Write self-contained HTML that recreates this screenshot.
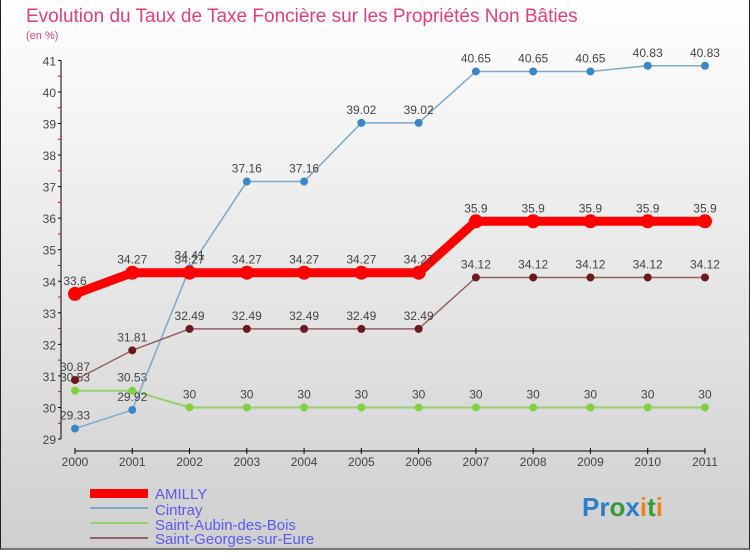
<!DOCTYPE html>
<html><head><meta charset="utf-8"><style>
body{margin:0;width:750px;height:550px;overflow:hidden;font-family:"Liberation Sans",sans-serif}
</style></head><body>
<svg width="750" height="550" xmlns="http://www.w3.org/2000/svg">
<defs><linearGradient id="bg" x1="0" y1="0" x2="0" y2="1"><stop offset="0" stop-color="#ffffff"/><stop offset="1" stop-color="#cfcfcf"/></linearGradient></defs>
<rect x="0" y="0" width="750" height="550" fill="url(#bg)"/>
<rect x="0.5" y="-2" width="749" height="551" fill="none" stroke="#222"/>
<text x="26" y="22" font-size="19" fill="#e0407a">Evolution du Taux de Taxe Foncière sur les Propriétés Non Bâties</text>
<text x="26" y="39" font-size="11" fill="#e0407a">(en %)</text>
<g id="axes"></g><g id="series"></g>
<g>
<rect x="90" y="489" width="58" height="9" fill="#f00"/>
<rect x="90" y="507" width="58" height="2" fill="#7aa9cc"/>
<rect x="90" y="522" width="58" height="2" fill="#98d070"/>
<rect x="90" y="537" width="58" height="2" fill="#946060"/>
<g font-size="15" fill="#5a5aee">
<text x="132" y="499" transform="translate(23,0)">AMILLY</text>
<text x="155" y="515">Cintray</text>
<text x="155" y="530">Saint-Aubin-des-Bois</text>
<text x="155" y="544">Saint-Georges-sur-Eure</text>
</g></g>
<text x="582" y="516" font-size="26" font-weight="bold"><tspan fill="#2a7fc8">Pr</tspan><tspan fill="#3a9a3a">o</tspan><tspan fill="#2a7fc8">x</tspan><tspan fill="#f08020">i</tspan><tspan fill="#3a9a3a">t</tspan><tspan fill="#f08020">i</tspan></text>
</svg>
<script>
const years=[2000,2001,2002,2003,2004,2005,2006,2007,2008,2009,2010,2011];
const yTicks=[29,30,31,32,33,34,35,36,37,38,39,40,41];
const amilly=[33.6,34.27,34.27,34.27,34.27,34.27,34.27,35.9,35.9,35.9,35.9,35.9];
const cintray=[29.33,29.92,34.41,37.16,37.16,39.02,39.02,40.65,40.65,40.65,40.83,40.83];
const saintAubin=[30.53,30.53,30,30,30,30,30,30,30,30,30,30];
const saintGeorges=[30.87,31.81,32.49,32.49,32.49,32.49,32.49,34.12,34.12,34.12,34.12,34.12];
const NS="http://www.w3.org/2000/svg";
const x=i=>75+i*57.27;
const y=v=>439-(v-29)*31.55;
function mk(p,t,a){const e=document.createElementNS(NS,t);for(const k in a)e.setAttribute(k,a[k]);p.appendChild(e);return e;}
const ax=document.getElementById('axes');
let l=mk(ax,'line',{x1:61,y1:y(41),x2:61,y2:y(29),stroke:'#000'});


l=mk(ax,'line',{x1:x(0),y1:451,x2:x(11),y2:451,stroke:'#000'});


yTicks.forEach(v=>{
 mk(ax,'line',{x1:58,y1:y(v),x2:61,y2:y(v),stroke:'#000'});
 if(v<41)mk(ax,'line',{x1:58,y1:y(v+0.5),x2:61,y2:y(v+0.5),stroke:'#e00'});
 const t=mk(ax,'text',{x:56,y:y(v)+5,'font-size':12,'text-anchor':'end',fill:'#444'});t.textContent=v;
 
 
});
years.forEach((yr,i)=>{
 mk(ax,'line',{x1:x(i),y1:448,x2:x(i),y2:454,stroke:'#000'});
 const t=mk(ax,'text',{x:x(i),y:466,'font-size':12,'text-anchor':'middle',fill:'#444'});t.textContent=yr;
 
 
});
const sg=document.getElementById('series');
function series(data,name,color,dot,w,r){
 const g=mk(sg,'g',{});
 
 
 mk(g,'polyline',{points:data.map((v,i)=>x(i)+','+y(v)).join(' '),fill:'none',stroke:color,'stroke-width':w});
 data.forEach((v,i)=>{
  const c=mk(g,'circle',{cx:x(i),cy:y(v),r:r,fill:dot});
  
  
  const t=mk(g,'text',{x:x(i),y:y(v)-9,'font-size':12,'text-anchor':'middle',fill:'#444'});t.textContent=v;
  
  
 });
}
series(saintAubin,'saint-aubin','#98d070','#80d040',2,4);
series(cintray,'cintray','#7aa9cc','#3a88c8',1.5,4);
series(saintGeorges,'saint-georges','#946060','#6a1a1a',1.5,4);
series(amilly,'amilly','#f00','#f00',9,7);
</script>
</body></html>
